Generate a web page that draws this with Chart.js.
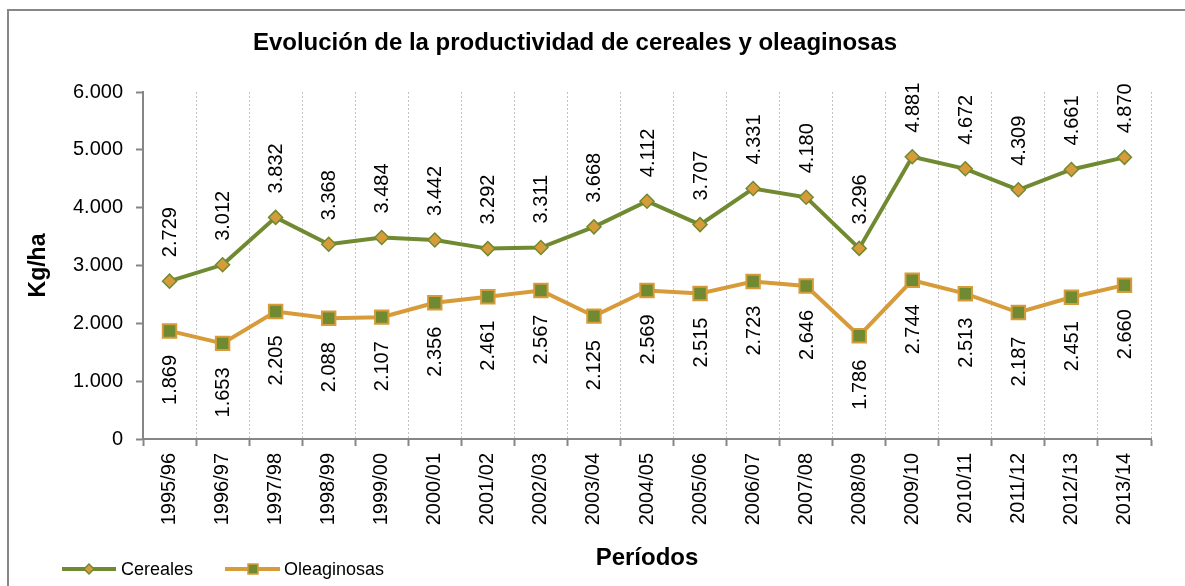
<!DOCTYPE html>
<html>
<head>
<meta charset="utf-8">
<script src="https://cdn.jsdelivr.net/npm/chart.js@4/dist/chart.umd.min.js"></script>
<style>
  body { margin: 0; background: #fff; }
  #wrap { position: relative; width: 1185px; height: 586px; }
</style>
</head>
<body>
<div id="wrap"><canvas id="chart" width="1185" height="586"></canvas></div>
<script>
// Chart data
const periodos = ["1995/96", "1996/97", "1997/98", "1998/99", "1999/00", "2000/01", "2001/02",
    "2002/03", "2003/04", "2004/05", "2005/06", "2006/07", "2007/08", "2008/09", "2009/10",
    "2010/11", "2011/12", "2012/13", "2013/14"];
const cereales = [2729, 3012, 3832, 3368, 3484, 3442, 3292, 3311, 3668, 4112, 3707, 4331, 4180,
    3296, 4881, 4672, 4309, 4661, 4870];
const oleaginosas = [1869, 1653, 2205, 2088, 2107, 2356, 2461, 2567, 2125, 2569, 2515, 2723, 2646,
    1786, 2744, 2513, 2187, 2451, 2660];
const yTicks = [0, 1000, 2000, 3000, 4000, 5000, 6000];

const FONT = '"Liberation Sans", Arial, sans-serif';
const OLIVE = "#708A31";
const ORANGE = "#D89B3A";

// 2729 -> "2.729"
function fmt(v) {
    return String(v).replace(/\B(?=(\d{3})+(?!\d))/g, ".");
}

// Frame, title, rotated value labels and the legend are drawn by hand
const extras = {
    id: "extras",
    beforeDraw(chart) {
        const ctx = chart.ctx;
        ctx.save();
        ctx.strokeStyle = "#878787";
        ctx.lineWidth = 2;
        ctx.beginPath();
        ctx.moveTo(8, 586);
        ctx.lineTo(8, 10);
        ctx.lineTo(1185, 10);
        ctx.stroke();
        ctx.restore();
    },
    afterDatasetsDraw(chart) {
        const ctx = chart.ctx;
        chart.data.datasets.forEach((ds, i) => {
            const meta = chart.getDatasetMeta(i);
            const above = i === 0;
            meta.data.forEach((pt, j) => {
                ctx.save();
                ctx.translate(pt.x + 1, pt.y + (above ? -24 : 24));
                ctx.rotate(-Math.PI / 2);
                ctx.font = "20px " + FONT;
                ctx.fillStyle = "#000";
                ctx.textBaseline = "middle";
                ctx.textAlign = above ? "left" : "right";
                ctx.fillText(fmt(ds.data[j]), 0, 0);
                ctx.restore();
            });
        });
    },
    afterDraw(chart) {
        const ctx = chart.ctx;
        ctx.save();
        // title
        ctx.font = "bold 24px " + FONT;
        ctx.fillStyle = "#000";
        ctx.textAlign = "center";
        ctx.textBaseline = "middle";
        ctx.fillText("Evolución de la productividad de cereales y oleaginosas", 575, 43);

        // legend
        const ly = 569;
        ctx.lineWidth = 4;
        ctx.strokeStyle = OLIVE;
        ctx.beginPath();
        ctx.moveTo(62, ly);
        ctx.lineTo(116, ly);
        ctx.stroke();
        ctx.fillStyle = ORANGE;
        ctx.strokeStyle = OLIVE;
        ctx.lineWidth = 1.5;
        ctx.beginPath();
        ctx.moveTo(89, ly - 5);
        ctx.lineTo(94, ly);
        ctx.lineTo(89, ly + 5);
        ctx.lineTo(84, ly);
        ctx.closePath();
        ctx.fill();
        ctx.stroke();

        ctx.lineWidth = 4;
        ctx.strokeStyle = ORANGE;
        ctx.beginPath();
        ctx.moveTo(225, ly);
        ctx.lineTo(280, ly);
        ctx.stroke();
        ctx.fillStyle = OLIVE;
        ctx.lineWidth = 1.5;
        ctx.fillRect(248, ly - 5, 10, 10);
        ctx.strokeRect(248, ly - 5, 10, 10);

        ctx.font = "18px " + FONT;
        ctx.fillStyle = "#000";
        ctx.textAlign = "left";
        ctx.fillText("Cereales", 121, ly + 1);
        ctx.fillText("Oleaginosas", 284, ly + 1);
        ctx.restore();
    }
};

new Chart(document.getElementById("chart"), {
    type: "line",
    data: {
        labels: periodos,
        datasets: [
            {
                label: "Cereales",
                data: cereales,
                borderColor: OLIVE,
                borderWidth: 4,
                pointStyle: "rectRot",
                pointRadius: 7,
                pointBackgroundColor: ORANGE,
                pointBorderColor: OLIVE,
                pointBorderWidth: 1.5,
                tension: 0
            },
            {
                label: "Oleaginosas",
                data: oleaginosas,
                borderColor: ORANGE,
                borderWidth: 4,
                pointStyle: "rect",
                pointRadius: 9.5,
                pointBackgroundColor: OLIVE,
                pointBorderColor: ORANGE,
                pointBorderWidth: 2,
                tension: 0
            }
        ]
    },
    options: {
        responsive: false,
        animation: false,
        layout: { padding: { top: 92, left: 0, right: 34, bottom: 0 } },
        plugins: {
            legend: { display: false },
            title: { display: false },
            tooltip: { enabled: false }
        },
        scales: {
            x: {
                offset: true,
                grid: {
                    offset: true,
                    color: "#C4C4C4",
                    lineWidth: 1,
                    tickColor: "#868686",
                    tickLength: 7,
                    tickWidth: 2
                },
                border: { color: "#868686", width: 2, dash: [2, 2] },
                ticks: {
                    color: "#000",
                    font: { family: FONT, size: 20 },
                    minRotation: 90,
                    maxRotation: 90,
                    padding: 7,
                    autoSkip: false
                },
                title: {
                    display: true,
                    text: "Períodos",
                    color: "#000",
                    font: { family: FONT, size: 24, weight: "bold" },
                    padding: { top: 0, bottom: 13 }
                },
                afterFit(s) {
                    s.height = 147;
                    s.paddingLeft = 0;
                    s.paddingRight = 0;
                }
            },
            y: {
                min: 0,
                max: 6000,
                afterBuildTicks(s) {
                    s.ticks = yTicks.map(v => ({ value: v }));
                },
                grid: {
                    drawOnChartArea: false,
                    tickColor: "#868686",
                    tickLength: 7,
                    tickWidth: 2
                },
                border: { color: "#868686", width: 2 },
                ticks: {
                    color: "#000",
                    font: { family: FONT, size: 20 },
                    padding: 13,
                    callback: v => fmt(v)
                },
                title: {
                    display: true,
                    text: "Kg/ha",
                    color: "#000",
                    font: { family: FONT, size: 23, weight: "bold" },
                    padding: { top: 25, bottom: 0 }
                },
                afterFit(s) {
                    s.width = 143;
                    s.paddingTop = 0;
                    s.paddingBottom = 0;
                }
            }
        }
    },
    plugins: [extras]
});
</script>
</body>
</html>
